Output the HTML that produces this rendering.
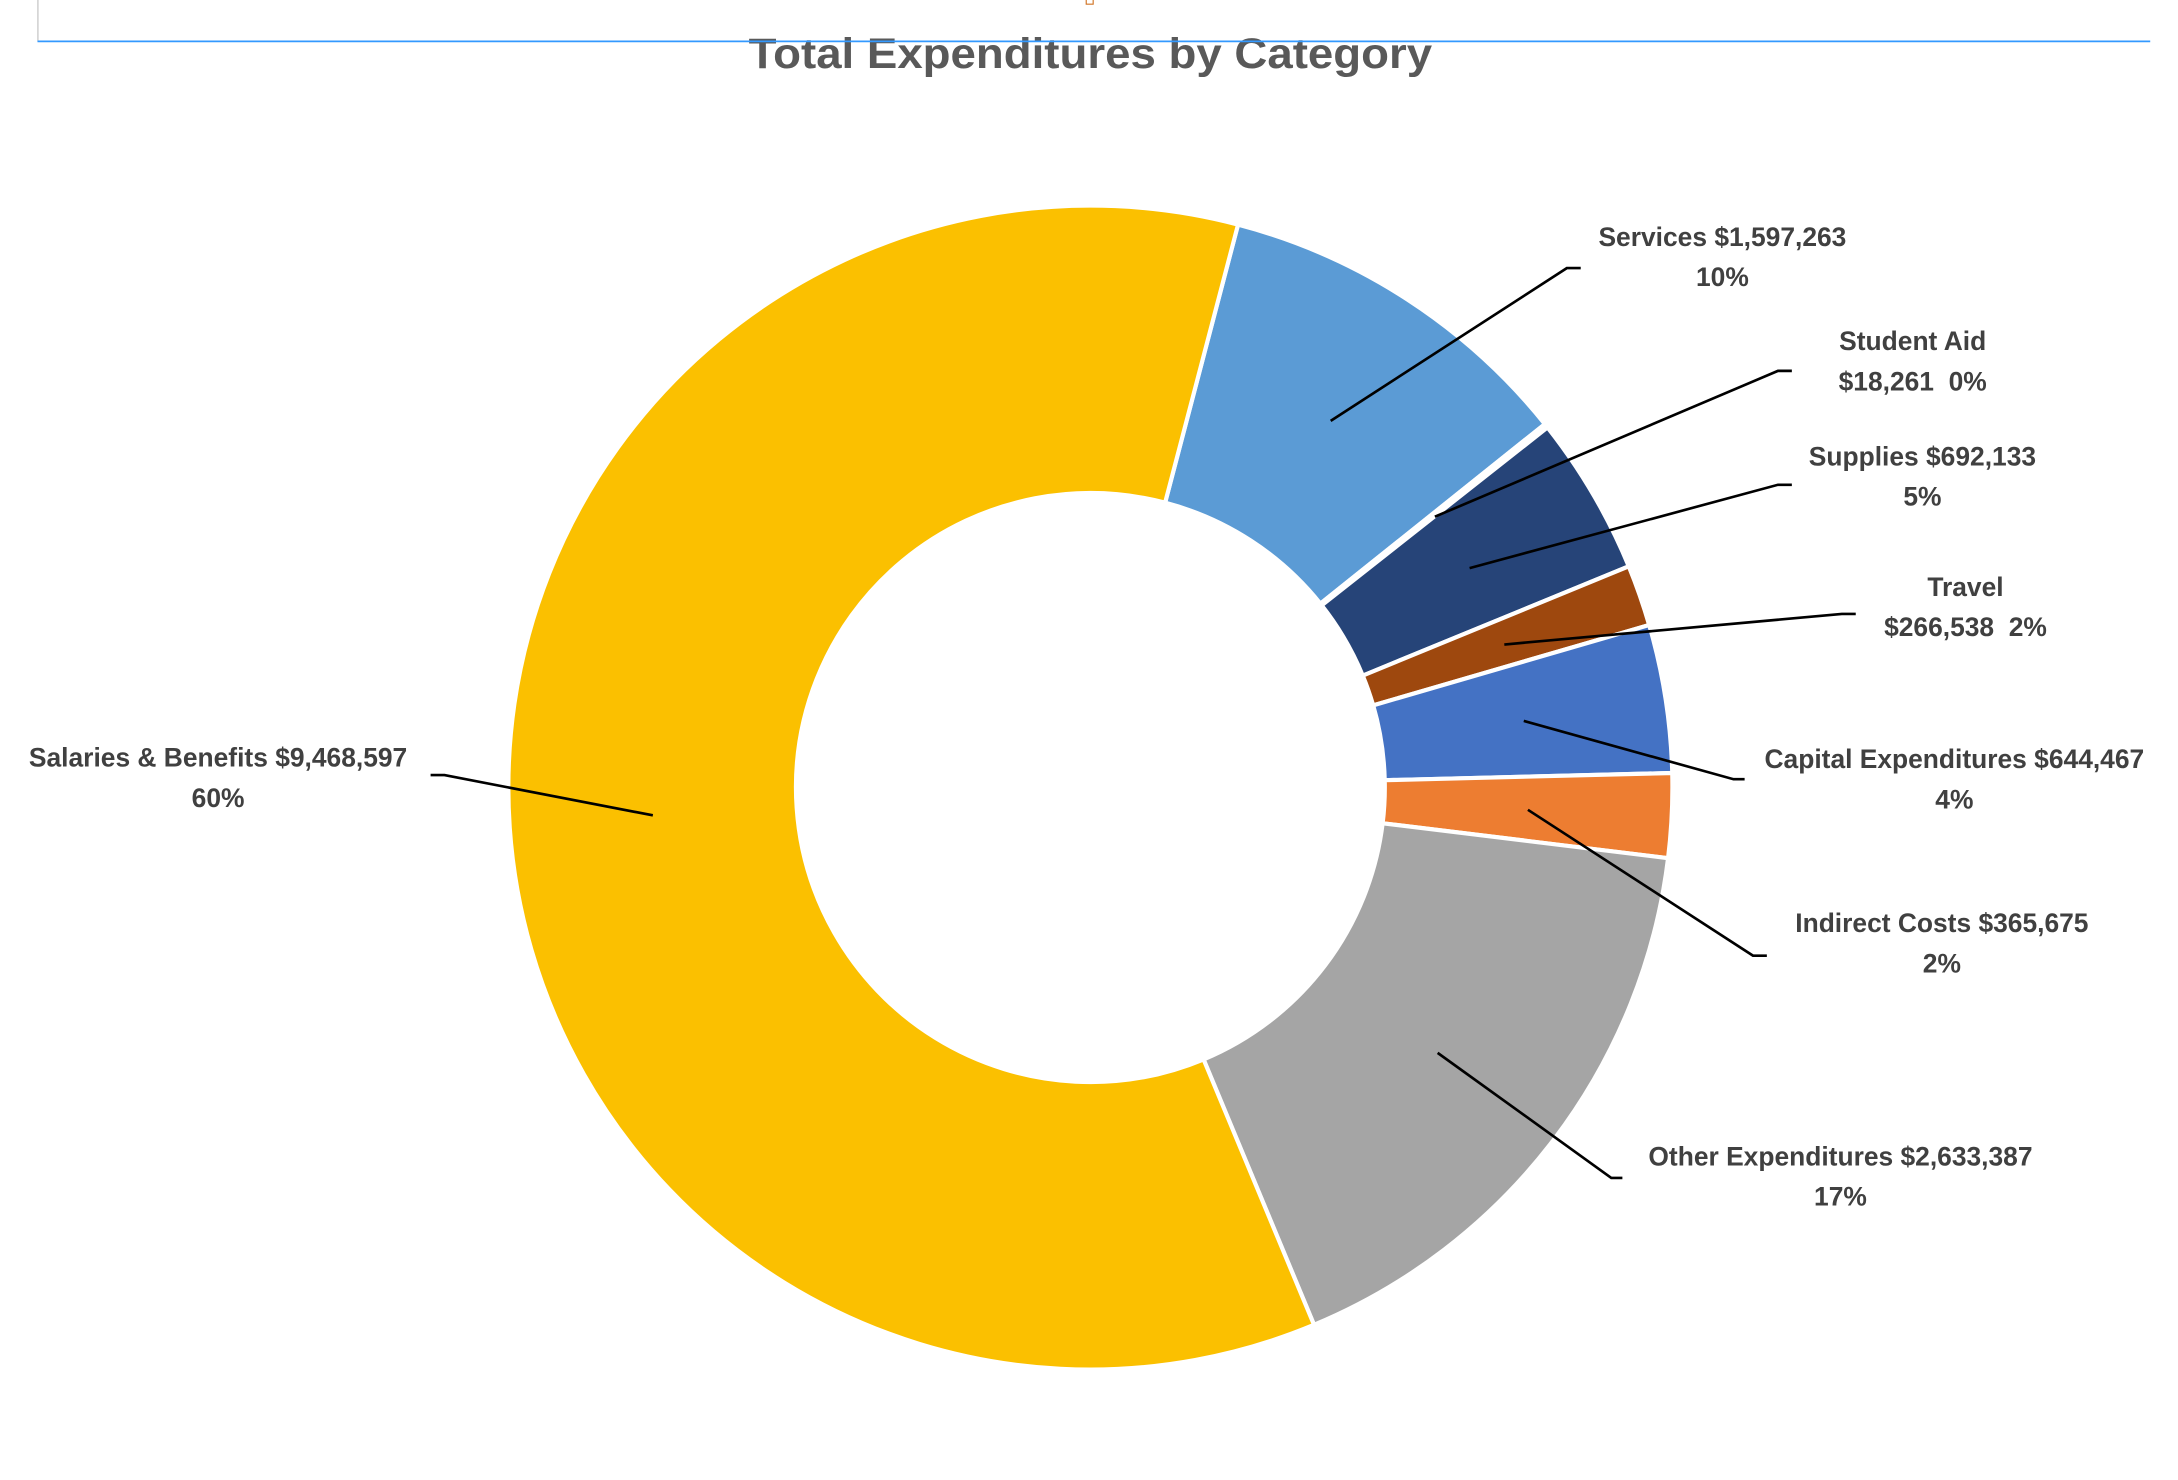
<!DOCTYPE html>
<html><head><meta charset="utf-8"><style>
html,body{margin:0;padding:0;background:#fff;}
svg{display:block;}
text{font-family:"Liberation Sans",sans-serif;font-weight:bold;white-space:pre;}
</style></head><body>
<svg width="2178" height="1480" viewBox="0 0 1568 1065.5" preserveAspectRatio="none" xmlns="http://www.w3.org/2000/svg" xml:space="preserve">
<rect x="0" y="0" width="1568" height="1065.5" fill="#fff"/>
<line x1="27.3" y1="0" x2="27.3" y2="30" stroke="#bfbfbf" stroke-width="0.8"/>
<text x="785" y="49" text-anchor="middle" font-size="31" fill="#595959" textLength="492" lengthAdjust="spacingAndGlyphs">Total Expenditures by Category</text>
<line x1="27" y1="29.8" x2="1548" y2="29.8" stroke="#3399ff" stroke-width="1.2"/>
<rect x="782" y="-2" width="5" height="5" fill="none" stroke="#d07020" stroke-width="0.8"/>
<g stroke="#fff" stroke-width="3" stroke-linejoin="round">
<path d="M891.3 161.7 A419 419 0 0 1 1112.2 305.3 L950.6 434.6 A212 212 0 0 0 838.8 361.9 Z" fill="#5B9BD5"/>
<path d="M1112.2 305.3 A419 419 0 0 1 1114.1 307.7 L951.5 435.8 A212 212 0 0 0 950.6 434.6 Z" fill="#636363"/>
<path d="M1114.1 307.7 A419 419 0 0 1 1172.6 407.7 L981.1 486.4 A212 212 0 0 0 951.5 435.8 Z" fill="#264478"/>
<path d="M1172.6 407.7 A419 419 0 0 1 1187.3 450.0 L988.6 507.8 A212 212 0 0 0 981.1 486.4 Z" fill="#9E480E"/>
<path d="M1187.3 450.0 A419 419 0 0 1 1203.9 556.5 L996.9 561.7 A212 212 0 0 0 988.6 507.8 Z" fill="#4472C4"/>
<path d="M1203.9 556.5 A419 419 0 0 1 1200.9 617.8 L995.4 592.7 A212 212 0 0 0 996.9 561.7 Z" fill="#ED7D31"/>
<path d="M1200.9 617.8 A419 419 0 0 1 946.0 953.8 L866.5 762.7 A212 212 0 0 0 995.4 592.7 Z" fill="#A5A5A5"/>
<path d="M946.0 953.8 A419 419 0 1 1 891.3 161.7 L838.8 361.9 A212 212 0 1 0 866.5 762.7 Z" fill="#FBC000"/>
</g>
<g stroke="#000" stroke-width="1.9" fill="none">
<polyline points="958,303 1128,193 1138,193"/>
<polyline points="1033,372 1280,267 1290,267"/>
<polyline points="1058,409 1280,349 1290,349"/>
<polyline points="1083,464 1326,442 1336,442"/>
<polyline points="1097,519 1248,561 1256,561"/>
<polyline points="1100,583 1262,688 1272,688"/>
<polyline points="1035,758 1160,848 1168,848"/>
<polyline points="470,587 320,558 310,558"/>
</g>
<g font-size="19" fill="#404040" text-anchor="middle">
<text x="1240" y="177">Services $1,597,263</text><text x="1240" y="206">10%</text>
<text x="1377" y="252">Student Aid</text><text x="1377" y="281">$18,261  0%</text>
<text x="1384" y="335">Supplies $692,133</text><text x="1384" y="364">5%</text>
<text x="1415" y="429">Travel</text><text x="1415" y="458">$266,538  2%</text>
<text x="1407" y="553">Capital Expenditures $644,467</text><text x="1407" y="582">4%</text>
<text x="1398" y="671">Indirect Costs $365,675</text><text x="1398" y="700">2%</text>
<text x="1325" y="839">Other Expenditures $2,633,387</text><text x="1325" y="868">17%</text>
<text x="157" y="552">Salaries &amp; Benefits $9,468,597</text><text x="157" y="581">60%</text>
</g>
</svg>
</body></html>
